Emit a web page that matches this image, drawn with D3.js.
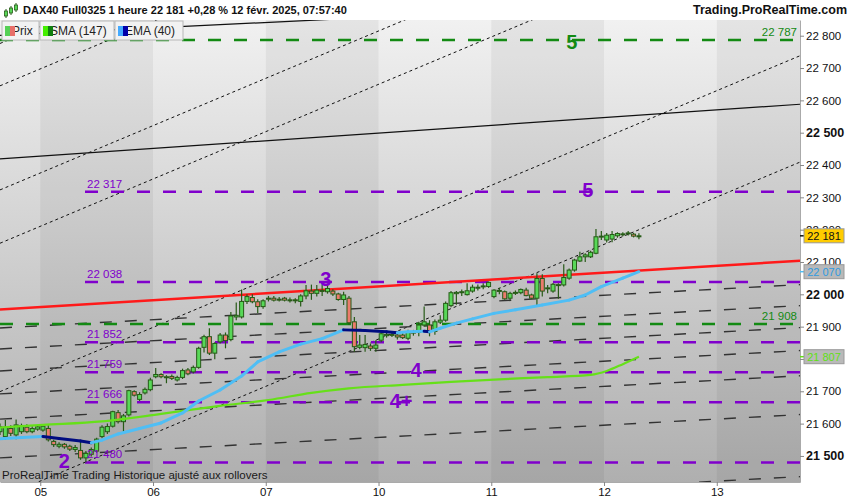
<!DOCTYPE html>
<html>
<head>
<meta charset="utf-8">
<script src="https://cdn.jsdelivr.net/npm/d3@7"></script>
<style>
  body { margin: 0; background: #fff; }
  svg { display: block; font-family: "Liberation Sans", Arial, sans-serif; }
</style>
</head>
<body>
<svg id="chart" width="850" height="500"></svg>
<script>
// ---- data (1 hour candles, DAX40 Full0325) ----
const days = ["04", "05", "06", "07", "10", "11", "12", "13"];
const sessionLen = 21;        // hourly candles per session
const firstDayShown = 8;      // candles of 04 Feb still on screen

const opens = [
  21575, 21560, 21585, 21565, 21575, 21589, 21575, 21583,
  21580, 21585, 21545, 21530, 21536, 21530, 21520, 21517, 21494, 21505, 21515, 21560, 21575, 21592, 21634, 21606, 21627, 21699, 21675, 21695, 21705,
  21745, 21752, 21745, 21746, 21735, 21743, 21766, 21760, 21774, 21836, 21869, 21818, 21853, 21874, 21860, 21930, 21930, 21978, 21990, 21977, 21962,
  21988, 21988, 21985, 21988, 21982, 21983, 21978, 21995, 22010, 22003, 22012, 22008, 22010, 22001, 21984, 21988, 21915, 21836, 21835, 21840, 21833,
  21858, 21872, 21876, 21874, 21874, 21864, 21884, 21882, 21905, 21905, 21885, 21914, 21920, 21965, 22002, 22005, 21999, 22010, 22020, 22023, 22024,
  21993, 22010, 22008, 21988, 22003, 22005, 22013, 21998, 21988, 22049, 22018, 22010, 22030, 22029, 22050, 22075, 22103, 22116, 22116, 22127, 22178,
  22168, 22171, 22181, 22186, 22187, 22186, 22180
];
const highs = [
  21600, 21611, 21595, 21613, 21600, 21598, 21592, 21596,
  21597, 21595, 21550, 21542, 21540, 21535, 21534, 21545, 21515, 21526, 21556, 21595, 21600, 21640, 21642, 21630, 21705, 21703, 21697, 21712, 21742,
  21772, 21756, 21750, 21752, 21748, 21770, 21772, 21780, 21838, 21875, 21895, 21852, 21880, 21882, 21945, 21975, 22015, 22000, 22000, 21985, 21985,
  21995, 21995, 21992, 21992, 21990, 21988, 22000, 22029, 22030, 22029, 22038, 22029, 22016, 22005, 22008, 21995, 21930, 21874, 21874, 21848, 21858,
  21885, 21884, 21882, 21880, 21880, 21890, 21890, 21915, 21962, 21920, 21922, 21935, 21978, 22010, 22010, 22015, 22034, 22030, 22030, 22034, 22040,
  22016, 22020, 22012, 22008, 22012, 22018, 22020, 22002, 22065, 22062, 22029, 22035, 22034, 22093, 22080, 22110, 22132, 22127, 22135, 22202, 22196,
  22190, 22196, 22192, 22192, 22196, 22190, 22189
];
const lows = [
  21565, 21550, 21562, 21552, 21568, 21570, 21570, 21578,
  21575, 21545, 21528, 21524, 21522, 21515, 21512, 21488, 21480, 21498, 21510, 21555, 21568, 21588, 21600, 21570, 21622, 21684, 21670, 21690, 21700,
  21740, 21740, 21725, 21735, 21730, 21738, 21750, 21755, 21770, 21820, 21812, 21799, 21848, 21833, 21855, 21920, 21925, 21970, 21972, 21942, 21955,
  21978, 21978, 21978, 21978, 21975, 21972, 21962, 21985, 21983, 21993, 21995, 22002, 21995, 21980, 21967, 21905, 21822, 21830, 21822, 21825, 21822,
  21852, 21866, 21868, 21860, 21862, 21858, 21872, 21870, 21900, 21870, 21875, 21908, 21915, 21960, 21968, 21995, 21996, 22005, 22012, 22016, 22020,
  21988, 22000, 21983, 21982, 21998, 22000, 21994, 21985, 21965, 21993, 22003, 22005, 21986, 22024, 22045, 22070, 22100, 22100, 22112, 22124, 22168,
  22160, 22161, 22175, 22180, 22182, 22176, 22170
];
const closes = [
  21590, 21589, 21570, 21596, 21593, 21575, 21585, 21590,
  21592, 21550, 21535, 21536, 21528, 21521, 21526, 21494, 21508, 21520, 21552, 21589, 21591, 21637, 21606, 21624, 21702, 21688, 21690, 21706, 21735,
  21752, 21745, 21743, 21740, 21743, 21764, 21754, 21774, 21833, 21869, 21818, 21848, 21874, 21857, 21933, 21935, 21978, 21993, 21977, 21962, 21980,
  21985, 21982, 21984, 21982, 21983, 21980, 21995, 22011, 22003, 22013, 22010, 22018, 22001, 21984, 21998, 21912, 21838, 21843, 21845, 21833, 21843,
  21878, 21876, 21874, 21868, 21866, 21884, 21880, 21905, 21915, 21885, 21915, 21920, 21972, 22005, 22006, 22008, 22011, 22022, 22022, 22026, 22037,
  22013, 22012, 21986, 22003, 22006, 22015, 21996, 21988, 22049, 22010, 22020, 22031, 22028, 22052, 22075, 22106, 22116, 22122, 22130, 22178, 22180,
  22183, 22185, 22188, 22187, 22190, 22180, 22181
];

// SMA (147) and EMA (40) as read at candle indexes
const smaIdx = [0, 8, 19, 30, 41, 50, 58, 65, 75, 84, 93, 102, 110, 113, 116, 119];
const smaVal = [21588, 21596, 21607, 21630, 21655, 21673, 21695, 21709, 21720, 21729, 21737, 21744, 21751, 21763, 21784, 21807];
const emaIdx = [0, 4, 8, 11, 15, 17, 19, 22, 26, 30, 34, 37, 41, 45, 48, 52, 56, 60, 64, 68, 72, 74, 76, 79, 80, 82, 85, 88, 92, 96, 101, 106, 109, 112, 116, 119];
const emaVal = [21553, 21557, 21560, 21554, 21546, 21541, 21549, 21568, 21585, 21602, 21633, 21670, 21704, 21747, 21791, 21822, 21846, 21863, 21890, 21888, 21884, 21881, 21884, 21886, 21884, 21895, 21911, 21924, 21941, 21952, 21967, 21982, 21998, 22024, 22050, 22070];

// horizontal levels
const greenLevels = [22787, 21908];
const purpleLevels = [22317, 22038, 21852, 21759, 21666, 21480];

// drawn lines: price at left edge (index 0) and right edge (index 149)
const redLine = [21953, 22104];
const blackStart = [22419, 22801];
const blackEnd = [22588, 22921];
const dottedStart = [22776, 22645, 22323, 22158, 21699, 21370];
const dottedEnd = [23815, 23684, 23362, 23197, 22738, 22409];
const dashStart = [21896, 21831, 21763, 21692, 21614, 21494, 21302];
const dashEnd = [22030, 21965, 21897, 21826, 21748, 21628, 21436];

// wave counts
const majorWaves = ["5"], majorIdx = [106.5], majorPrice = [22780];
const minorWaves = ["5", "3", "4", "4+", "2"];
const minorIdx = [109.5, 60.7, 77.5, 74.7, 12];
const minorPrice = [22323, 22046, 21766, 21670, 21484];

// ---- layout ----
const plot = { left: 0, top: 20, right: 800, bottom: 482 };
const svg = d3.select("#chart");

const x = d3.scaleLinear().domain([0, 149]).range([plot.left, plot.right]);
const y = d3.scaleLinear().domain([21419.4, 22848.6]).range([plot.bottom, plot.top]);
const fmt = v => d3.format(",.0f")(v).replace(/,/g, " ");

const green = "#138a13", purple = "#8000cc";

const defs = svg.append("defs");
const grad = defs.append("linearGradient").attr("id", "bg")
  .attr("x1", 0).attr("y1", 0).attr("x2", 0).attr("y2", 1);
grad.append("stop").attr("offset", "0%").attr("stop-color", "#f1f1f1");
grad.append("stop").attr("offset", "100%").attr("stop-color", "#afafaf");
defs.append("clipPath").attr("id", "clip").append("rect")
  .attr("x", plot.left).attr("y", plot.top)
  .attr("width", plot.right - plot.left).attr("height", plot.bottom - plot.top);

svg.append("rect").attr("width", 850).attr("height", 500).attr("fill", "#fff");

const g = svg.append("g").attr("clip-path", "url(#clip)");
g.append("rect").attr("x", plot.left).attr("y", plot.top)
  .attr("width", plot.right - plot.left).attr("height", plot.bottom - plot.top)
  .attr("fill", "url(#bg)");

// day bands
const day0 = firstDayShown - sessionLen;
const dayStarts = days.map((d, k) => day0 + k * sessionLen - 0.5);
g.selectAll(".band").data(dayStarts).enter().append("rect")
  .attr("x", d => x(d)).attr("y", plot.top)
  .attr("width", x(sessionLen) - x(0)).attr("height", plot.bottom - plot.top)
  .attr("fill", (d, k) => k % 2 ? "rgba(0,0,0,0.05)" : "rgba(255,255,255,0.0)");

const x0 = 0, x1 = 149;

// dotted diagonal lines
g.selectAll(".dotted").data(dottedStart).enter().append("line")
  .attr("x1", x(x0)).attr("x2", x(x1))
  .attr("y1", d => y(d)).attr("y2", (d, i) => y(dottedEnd[i]))
  .attr("stroke", "#111").attr("stroke-width", 1).attr("stroke-dasharray", "3,3");

// long dash lines
g.selectAll(".ldash").data(dashStart).enter().append("line")
  .attr("x1", x(x0)).attr("x2", x(x1))
  .attr("y1", d => y(d)).attr("y2", (d, i) => y(dashEnd[i]))
  .attr("stroke", "#333").attr("stroke-width", 1.4).attr("stroke-dasharray", "12,13");

// black trend lines
g.selectAll(".black").data(blackStart).enter().append("line")
  .attr("x1", x(x0)).attr("x2", x(x1))
  .attr("y1", d => y(d)).attr("y2", (d, i) => y(blackEnd[i]))
  .attr("stroke", "#111").attr("stroke-width", 1.2);

// green levels
g.selectAll(".glev").data(greenLevels).enter().append("line")
  .attr("x1", plot.left).attr("x2", plot.right)
  .attr("y1", d => y(d)).attr("y2", d => y(d))
  .attr("stroke", green).attr("stroke-width", 2.5).attr("stroke-dasharray", "13,13");

// purple levels
g.selectAll(".plev").data(purpleLevels).enter().append("line")
  .attr("x1", 85).attr("x2", plot.right)
  .attr("y1", d => y(d)).attr("y2", d => y(d))
  .attr("stroke", purple).attr("stroke-width", 2.5).attr("stroke-dasharray", "13,13");

// red line
g.append("line")
  .attr("x1", x(x0)).attr("x2", x(x1))
  .attr("y1", y(redLine[0])).attr("y2", y(redLine[1]))
  .attr("stroke", "#ff1a1a").attr("stroke-width", 2.5);

// candles
const candles = d3.range(opens.length).map(i => ({ i, o: opens[i], h: highs[i], l: lows[i], c: closes[i] }));
const outline = "#275a17";
const cg = g.append("g");
cg.selectAll(".wick").data(candles).enter().append("line")
  .attr("x1", d => x(d.i)).attr("x2", d => x(d.i))
  .attr("y1", d => y(d.h)).attr("y2", d => y(d.l))
  .attr("stroke", outline).attr("stroke-width", 1.2);
cg.selectAll(".body").data(candles).enter().append("rect")
  .attr("x", d => x(d.i) - 2).attr("width", 4)
  .attr("y", d => y(Math.max(d.o, d.c)))
  .attr("height", d => Math.max(1, Math.abs(y(d.o) - y(d.c))))
  .attr("fill", d => d.c >= d.o ? "#58d858" : "#ec7b6c")
  .attr("stroke", outline).attr("stroke-width", 1);

// SMA
const line = d3.line().x(d => x(d[0])).y(d => y(d[1])).curve(d3.curveMonotoneX);
g.append("path")
  .datum(smaIdx.map((d, i) => [d, smaVal[i]]))
  .attr("d", line).attr("fill", "none")
  .attr("stroke", "#66e019").attr("stroke-width", 2.2);

// EMA, dark when falling
for (let k = 0; k < emaIdx.length - 1; k++) {
  g.append("line")
    .attr("x1", x(emaIdx[k])).attr("y1", y(emaVal[k]))
    .attr("x2", x(emaIdx[k + 1])).attr("y2", y(emaVal[k + 1]))
    .attr("stroke", emaVal[k + 1] < emaVal[k] ? "#000c80" : "#4fbef5")
    .attr("stroke-width", 3).attr("stroke-linecap", "round");
}

// level labels
g.selectAll(".plab").data(purpleLevels).enter().append("text")
  .attr("x", 87).attr("y", d => y(d) - 4)
  .attr("fill", purple).attr("font-size", 11.5).text(fmt);
g.selectAll(".glab").data(greenLevels).enter().append("text")
  .attr("x", 797).attr("y", d => y(d) - 4).attr("text-anchor", "end")
  .attr("fill", green).attr("font-size", 11.5).text(fmt);

// wave labels
g.selectAll(".maj").data(majorWaves).enter().append("text")
  .attr("x", (d, i) => x(majorIdx[i])).attr("y", (d, i) => y(majorPrice[i]) + 7)
  .attr("text-anchor", "middle").attr("font-size", 20).attr("font-weight", "bold")
  .attr("fill", green).text(d => d);
g.selectAll(".min").data(minorWaves).enter().append("text")
  .attr("x", (d, i) => x(minorIdx[i])).attr("y", (d, i) => y(minorPrice[i]) + 7)
  .attr("text-anchor", "middle").attr("font-size", 20).attr("font-weight", "bold")
  .attr("fill", purple).text(d => d);

// footer note
svg.append("text").attr("x", 2).attr("y", 479)
  .attr("font-size", 11.5).attr("fill", "#1a1a1a")
  .text("ProRealTime Trading  Historique ajusté aux rollovers");

// legend boxes (swatch sits over the first letter, as on the platform)
const legend = [
  { label: "Prix", c1: "#55d055", c2: "#e8706a", x: 2, w: 37 },
  { label: "SMA (147)", c1: "#44ee00", c2: "#108010", x: 40, w: 74 },
  { label: "EMA (40)", c1: "#44aaff", c2: "#0000aa", x: 115, w: 68 }
];
const lg = svg.append("g").selectAll("g").data(legend).enter().append("g")
  .attr("transform", d => `translate(${d.x},21)`);
lg.append("rect").attr("width", d => d.w).attr("height", 19)
  .attr("fill", "#f2f2f2").attr("stroke", "#b8b8b8");
lg.append("text").attr("x", 10).attr("y", 14).attr("font-size", 12).attr("fill", "#222").text(d => d.label);
lg.append("rect").attr("x", 3).attr("y", 5).attr("width", 5).attr("height", 10).attr("fill", d => d.c1);
lg.append("rect").attr("x", 8).attr("y", 5).attr("width", 5).attr("height", 10).attr("fill", d => d.c2);

// header
svg.append("rect").attr("width", 850).attr("height", plot.top).attr("fill", "#fff");
const icon = svg.append("g").attr("transform", "translate(4,3)");
icon.append("line").attr("x1", 2).attr("x2", 2).attr("y1", 6).attr("y2", 15).attr("stroke", outline);
icon.append("rect").attr("x", 0.5).attr("y", 8).attr("width", 3).attr("height", 5).attr("fill", "#58d858").attr("stroke", outline).attr("stroke-width", 0.8);
icon.append("line").attr("x1", 7).attr("x2", 7).attr("y1", 3).attr("y2", 12).attr("stroke", outline);
icon.append("rect").attr("x", 5.5).attr("y", 5).attr("width", 3).attr("height", 5).attr("fill", "#58d858").attr("stroke", outline).attr("stroke-width", 0.8);
icon.append("line").attr("x1", 12).attr("x2", 12).attr("y1", 0).attr("y2", 9).attr("stroke", outline);
icon.append("rect").attr("x", 10.5).attr("y", 2).attr("width", 3).attr("height", 5).attr("fill", "#58d858").attr("stroke", outline).attr("stroke-width", 0.8);
svg.append("text").attr("x", 23).attr("y", 14).attr("font-size", 11).attr("font-weight", "bold")
  .attr("fill", "#111").text("DAX40 Full0325 1 heure 22 181 +0,28 % 12 févr. 2025, 07:57:40");
svg.append("text").attr("x", 847).attr("y", 14).attr("text-anchor", "end")
  .attr("font-size", 12.5).attr("font-weight", "bold").attr("fill", "#111").text("Trading.ProRealTime.com");

// last value tags
const tags = [
  { v: closes[closes.length - 1], bg: "#ffcc00", fg: "#111", tick: "#111" },
  { v: emaVal[emaVal.length - 1], bg: "#b9b9b9", fg: "#2f9be0", tick: "#4fbef5" },
  { v: smaVal[smaVal.length - 1], bg: "#b9b9b9", fg: "#5fe012", tick: "#66e019" }
];

// right price axis
const yAxis = svg.append("g").attr("transform", `translate(${plot.right},0)`)
  .call(d3.axisRight(y).tickValues(d3.range(21500, 22801, 100)).tickFormat(fmt).tickSize(4).tickSizeOuter(0));
yAxis.select(".domain").attr("stroke", "#aaa");
yAxis.selectAll(".tick line").attr("stroke", "#888");
yAxis.selectAll(".tick text").attr("x", 6).attr("fill", "#111")
  .attr("font-size", d => d % 500 === 0 ? 12.5 : 11.5)
  .attr("font-weight", d => d % 500 === 0 ? "bold" : "normal")
  .attr("font-family", "Liberation Sans, Arial, sans-serif");

// bottom time axis
const xAxis = svg.append("g").attr("transform", `translate(0,${plot.bottom})`)
  .call(d3.axisBottom(x).tickValues(dayStarts.slice(1)).tickFormat((d, i) => days[i + 1]).tickSize(4).tickSizeOuter(0));
xAxis.select(".domain").attr("stroke", "#aaa");
xAxis.selectAll(".tick line").attr("stroke", "#888");
xAxis.selectAll(".tick text").attr("y", 6).attr("fill", "#111").attr("font-size", 11.5)
  .attr("font-family", "Liberation Sans, Arial, sans-serif");

const tg = svg.append("g").selectAll("g").data(tags).enter().append("g")
  .attr("transform", d => `translate(${plot.right},${y(d.v)})`);
tg.append("line").attr("x1", 0).attr("x2", 5).attr("stroke", d => d.tick).attr("stroke-width", 1.5);
tg.append("rect").attr("x", 4).attr("y", -7).attr("width", 40).attr("height", 14)
  .attr("fill", d => d.bg).attr("stroke", "#999");
tg.append("text").attr("x", 24).attr("y", 4).attr("text-anchor", "middle").attr("font-size", 11)
  .attr("fill", d => d.fg).text(d => fmt(d.v));
</script>
</body>
</html>
